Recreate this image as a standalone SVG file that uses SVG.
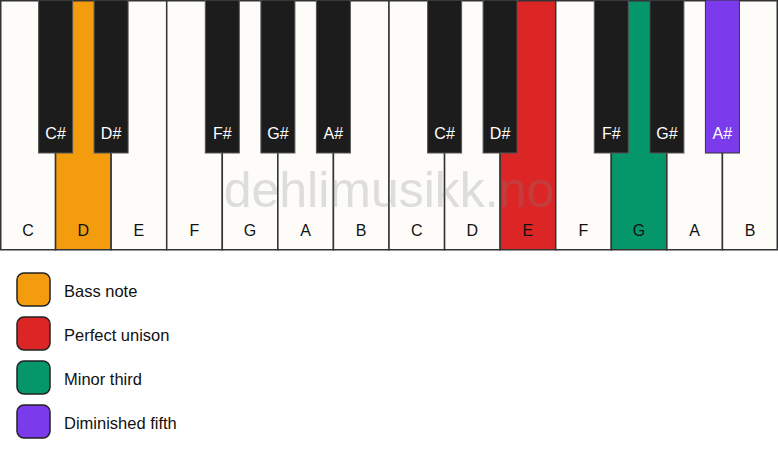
<svg xmlns="http://www.w3.org/2000/svg" width="778" height="461" viewBox="0 0 778 461">
<style>
.w{fill:#fdfcf9;stroke:#333;stroke-width:1.5}
.b{fill:#1c1c1c;stroke:#555;stroke-width:1}
.t{font-family:"Liberation Sans",Arial,sans-serif;font-size:16px;text-anchor:middle}
.tw{fill:#111}
.tb{fill:#fff}
.lg{stroke:#222;stroke-width:1.5}
.lt{font-family:"Liberation Sans",Arial,sans-serif;font-size:16.5px;fill:#111}
</style>
<rect width="778" height="461" fill="#ffffff"/>
<g id="white-keys">
<g id="w-C1"><rect class="w" x="0.75" y="0.75" width="54.82" height="249"/><text class="t tw" x="28" y="236">C</text></g>
<g id="w-D1"><rect class="w" x="55.57" y="0.75" width="55.57" height="249" style="fill:#F39C0E"/><text class="t tw" x="83.4" y="236">D</text></g>
<g id="w-E1"><rect class="w" x="111.14" y="0.75" width="55.57" height="249"/><text class="t tw" x="138.9" y="236">E</text></g>
<g id="w-F1"><rect class="w" x="166.71" y="0.75" width="55.57" height="249"/><text class="t tw" x="194.5" y="236">F</text></g>
<g id="w-G1"><rect class="w" x="222.29" y="0.75" width="55.57" height="249"/><text class="t tw" x="250.1" y="236">G</text></g>
<g id="w-A1"><rect class="w" x="277.86" y="0.75" width="55.57" height="249"/><text class="t tw" x="305.6" y="236">A</text></g>
<g id="w-B1"><rect class="w" x="333.43" y="0.75" width="55.57" height="249"/><text class="t tw" x="361.2" y="236">B</text></g>
<g id="w-C2"><rect class="w" x="389" y="0.75" width="55.57" height="249"/><text class="t tw" x="416.8" y="236">C</text></g>
<g id="w-D2"><rect class="w" x="444.57" y="0.75" width="55.57" height="249"/><text class="t tw" x="472.4" y="236">D</text></g>
<g id="w-E2"><rect class="w" x="500.14" y="0.75" width="55.57" height="249" style="fill:#DC2626"/><text class="t tw" x="527.9" y="236">E</text></g>
<g id="w-F2"><rect class="w" x="555.71" y="0.75" width="55.57" height="249"/><text class="t tw" x="583.5" y="236">F</text></g>
<g id="w-G2"><rect class="w" x="611.29" y="0.75" width="55.57" height="249" style="fill:#059669"/><text class="t tw" x="639.1" y="236">G</text></g>
<g id="w-A2"><rect class="w" x="666.86" y="0.75" width="55.57" height="249"/><text class="t tw" x="694.6" y="236">A</text></g>
<g id="w-B2"><rect class="w" x="722.43" y="0.75" width="54.82" height="249"/><text class="t tw" x="750" y="236">B</text></g>
</g>
<g id="black-keys">
<g id="b-Cs1"><rect class="b" x="38.6" y="0" width="34" height="153"/><text class="t tb" x="55.6" y="139">C#</text></g>
<g id="b-Ds1"><rect class="b" x="94.1" y="0" width="34" height="153"/><text class="t tb" x="111.1" y="139">D#</text></g>
<g id="b-Fs1"><rect class="b" x="205.3" y="0" width="34" height="153"/><text class="t tb" x="222.3" y="139">F#</text></g>
<g id="b-Gs1"><rect class="b" x="260.9" y="0" width="34" height="153"/><text class="t tb" x="277.9" y="139">G#</text></g>
<g id="b-As1"><rect class="b" x="316.4" y="0" width="34" height="153"/><text class="t tb" x="333.4" y="139">A#</text></g>
<g id="b-Cs2"><rect class="b" x="427.6" y="0" width="34" height="153"/><text class="t tb" x="444.6" y="139">C#</text></g>
<g id="b-Ds2"><rect class="b" x="483.1" y="0" width="34" height="153"/><text class="t tb" x="500.1" y="139">D#</text></g>
<g id="b-Fs2"><rect class="b" x="594.3" y="0" width="34" height="153"/><text class="t tb" x="611.3" y="139">F#</text></g>
<g id="b-Gs2"><rect class="b" x="649.9" y="0" width="34" height="153"/><text class="t tb" x="666.9" y="139">G#</text></g>
<g id="b-As2"><rect class="b" x="705.4" y="0" width="34" height="153" style="fill:#7C3AED;stroke:#333"/><text class="t tb" x="722.4" y="139">A#</text></g>
</g>
<text x="389" y="207" font-family="Liberation Sans,Arial,sans-serif" font-size="50" text-anchor="middle" fill="#808080" fill-opacity="0.25">dehlimusikk.no</text>
<g id="legend">
<g id="lg-bass"><rect class="lg" x="17" y="273" width="33" height="33" rx="7" fill="#F39C0E"/><text class="lt" x="64" y="296.5">Bass note</text></g>
<g id="lg-unison"><rect class="lg" x="17" y="317" width="33" height="33" rx="7" fill="#DC2626"/><text class="lt" x="64" y="340.5">Perfect unison</text></g>
<g id="lg-third"><rect class="lg" x="17" y="361" width="33" height="33" rx="7" fill="#059669"/><text class="lt" x="64" y="384.5">Minor third</text></g>
<g id="lg-fifth"><rect class="lg" x="17" y="405" width="33" height="33" rx="7" fill="#7C3AED"/><text class="lt" x="64" y="428.5">Diminished fifth</text></g>
</g>
<g id="connectors"/>
</svg>
